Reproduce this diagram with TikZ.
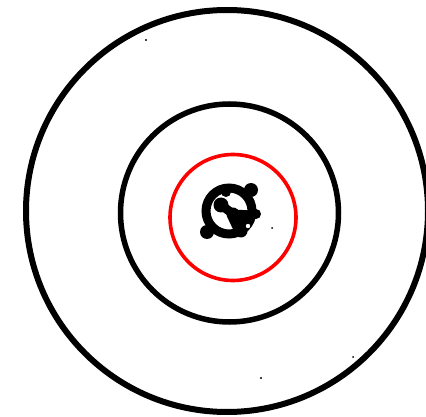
\documentclass[tikz,border=0pt]{standalone}
\begin{document}
\begin{tikzpicture}[x=1pt,y=-1pt,
  ring/.style={draw=black,line width=6pt},
  redring/.style={draw=red,line width=3.6pt},
  arm/.style={draw=black,line cap=round},
  speck/.style={fill=black}]
\useasboundingbox (0,0) rectangle (426,417);
\clip (0,0) rectangle (426,417);
\fill[white] (0,0) rectangle (426,417);
\coordinate (c1) at (227,211);
\coordinate (c2) at (229.5,213);
\coordinate (c3) at (233,217.5);
\coordinate (c0) at (229,211);
\draw[ring] (c1) circle[radius=201];
\draw[ring,line width=5.5pt] (c2) circle[radius=109];
\draw[redring] (c3) circle[radius=63];
% central blob
\draw[black,line width=9pt] (c0) circle[radius=23];
\fill[black] (251,190) circle[radius=7];
\fill[black] (207,232) circle[radius=7];
\fill[black] (256,214) circle[radius=5];
\coordinate (hub) at (233,214);
\coordinate (ldot) at (221,205);
\fill[black] (ldot) circle[radius=7.5];
\fill[black] (226,192) circle[radius=5];
\draw[arm,line width=9pt] (ldot) -- (hub);
\draw[arm,line width=9pt] (hub) -- (252,215);
\draw[arm,line width=13pt] (hub) -- (241,231);
\fill[black] (246,222) circle[radius=6];
\fill[white] (248,226) circle[radius=2.2];
% specks
\fill[speck] (146,40) circle[radius=1.2];
\fill[speck] (272,228) circle[radius=1];
\fill[speck] (353,357) circle[radius=1];
\fill[speck] (261,378) circle[radius=1.2];
\end{tikzpicture}
\end{document}
